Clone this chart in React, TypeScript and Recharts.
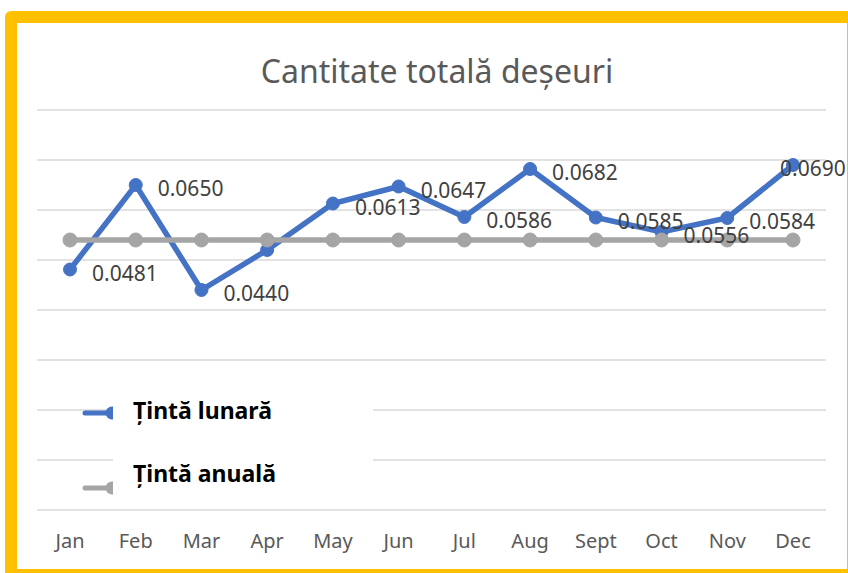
import React from "react";
import { LineChart, Line, XAxis, YAxis, CartesianGrid, Legend, LabelList } from "recharts";

const months = ["Jan", "Feb", "Mar", "Apr", "May", "Jun", "Jul", "Aug", "Sept", "Oct", "Nov", "Dec"];
// monthly target (Țintă lunară)
const lunar = [0.0481, 0.065, 0.044, 0.052, 0.0613, 0.0647, 0.0586, 0.0682, 0.0585, 0.0556, 0.0584, 0.069];
// yearly target (Țintă anuală), flat
const annual = [0.054, 0.054, 0.054, 0.054, 0.054, 0.054, 0.054, 0.054, 0.054, 0.054, 0.054, 0.054];
const yTicks = [0, 0.01, 0.02, 0.03, 0.04, 0.05, 0.06, 0.07, 0.08];
// the reference shows no value label for these months
const unlabeled = ["Apr"];

const seriesNames = { lunar: "Țintă lunară", annual: "Țintă anuală" };
const legendOrder = [seriesNames.lunar, seriesNames.annual];
const BLUE = "#4472C4";
const GREY = "#A5A5A5";
const FONT = "'Noto Sans', sans-serif";

const data = months.map((m, i) => ({ month: m, lunar: lunar[i], annual: annual[i] }));

function ValueLabel(props: any) {
  const { index, value } = props;
  const x = props.viewBox?.x ?? props.x;
  const y = props.viewBox?.y ?? props.y;
  if (x == null || y == null) return null;
  if (unlabeled.includes(months[index])) return null;
  const last = index === months.length - 1;
  return (
    <text
      x={last ? x - 13 : x + 22}
      y={y + 3}
      dominantBaseline="central"
      fontSize={21}
      fontFamily={FONT}
      fill="#404040"
    >
      {Number(value).toFixed(4)}
    </text>
  );
}

function LegendBox(props: any) {
  const items = (props.payload || [])
    .filter((p: any) => p.type !== "none")
    .sort((a: any, b: any) => legendOrder.indexOf(a.value) - legendOrder.indexOf(b.value));
  const markerTops = [21, 96];
  const textTops = [10, 73];
  return (
    <div style={{ position: "relative", width: 295, height: 118, fontFamily: FONT }}>
      {items.map((it: any, i: number) => (
        <svg
          key={"m" + i}
          width={31}
          height={14}
          style={{ position: "absolute", left: 2, top: markerTops[i] }}
        >
          <line x1={3} y1={7} x2={30} y2={7} stroke={it.color} strokeWidth={5} strokeLinecap="round" />
          <circle cx={30} cy={7} r={6.5} fill={it.color} />
        </svg>
      ))}
      <div style={{ position: "absolute", left: 33, top: 3, width: 260, height: 112, background: "#fff" }} />
      {items.map((it: any, i: number) => (
        <div
          key={"t" + i}
          style={{
            position: "absolute",
            left: 53,
            top: textTops[i],
            lineHeight: "30px",
            fontSize: 23,
            fontWeight: 700,
            color: "#000",
            whiteSpace: "nowrap",
          }}
        >
          {it.value}
        </div>
      ))}
    </div>
  );
}

export default function App() {
  return (
    <div style={{ position: "absolute", left: 0, top: 0, width: 848, height: 573, overflow: "hidden", background: "#fff" }}>
      <div
        style={{
          position: "absolute",
          left: 5,
          top: 11,
          width: 854,
          height: 570,
          border: "12px solid #FFC000",
          borderRadius: 6,
          boxSizing: "border-box",
        }}
      />
      <div
        style={{
          position: "absolute",
          left: 137,
          top: 51,
          width: 600,
          textAlign: "center",
          fontFamily: FONT,
          fontSize: 32,
          lineHeight: "40px",
          color: "#595959",
        }}
      >
        Cantitate totală deșeuri
      </div>
      <div style={{ position: "absolute", left: 0, top: 0 }}>
        <LineChart width={848} height={573} data={data} margin={{ top: 110, right: 22, bottom: 33, left: 37 }}>
          <CartesianGrid vertical={false} stroke="#D9D9D9" strokeWidth={1.5} />
          <XAxis
            dataKey="month"
            axisLine={false}
            tickLine={false}
            height={30}
            padding={{ left: 33, right: 33 }}
            tickMargin={18}
            tick={{ fontSize: 20, fill: "#595959", fontFamily: FONT }}
            interval={0}
          />
          <YAxis hide domain={[0, 0.08]} ticks={yTicks} />
          <Line
            dataKey="lunar"
            name={seriesNames.lunar}
            stroke={BLUE}
            strokeWidth={5.5}
            dot={{ r: 6.5, fill: BLUE, stroke: BLUE, strokeWidth: 1 }}
            activeDot={false}
            isAnimationActive={false}
          />
          <Line
            dataKey="annual"
            name={seriesNames.annual}
            stroke={GREY}
            strokeWidth={5.5}
            dot={{ r: 7, fill: GREY, stroke: GREY, strokeWidth: 1 }}
            activeDot={false}
            isAnimationActive={false}
          />
          {/* labels drawn last so they sit above both lines */}
          <Line
            dataKey="lunar"
            stroke="none"
            dot={false}
            activeDot={false}
            legendType="none"
            isAnimationActive={false}
          >
            <LabelList dataKey="lunar" content={ValueLabel} />
          </Line>
          <Legend
            layout="horizontal"
            verticalAlign="middle"
            align="center"
            content={LegendBox}
            wrapperStyle={{ left: 80, top: 385, width: 295, height: 118 }}
          />
        </LineChart>
      </div>
    </div>
  );
}
